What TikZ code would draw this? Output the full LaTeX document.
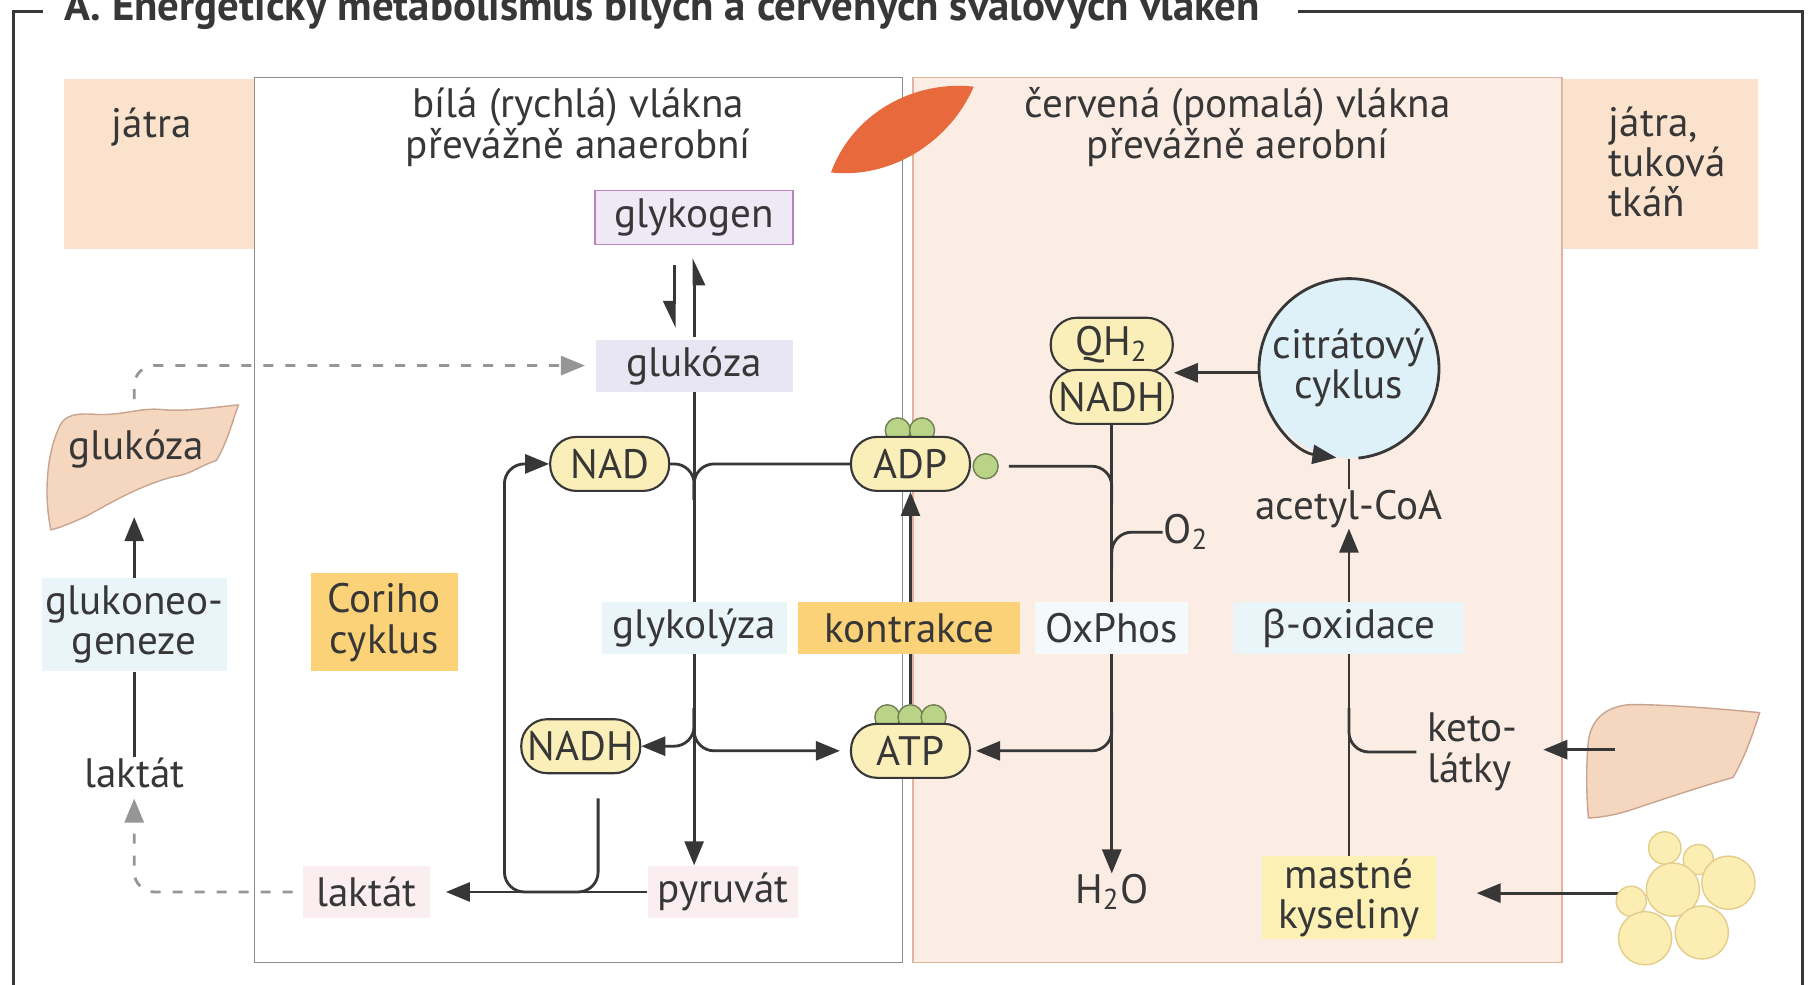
\documentclass[tikz,border=0pt]{standalone}
\usepackage{fontspec}
\setmainfont{PT Sans}
\newfontfamily\greekfont{Noto Sans}
\usetikzlibrary{arrows.meta}

\definecolor{ink}{RGB}{55,55,55}
\definecolor{band}{RGB}{250,226,205}
\definecolor{redfib}{RGB}{252,237,228}
\definecolor{redline}{RGB}{226,180,155}
\definecolor{boxline}{RGB}{140,140,140}
\definecolor{cofill}{RGB}{250,238,185}
\definecolor{pgreen}{RGB}{185,212,135}
\definecolor{sun}{RGB}{251,210,120}
\definecolor{cream}{RGB}{252,240,180}
\definecolor{sky}{RGB}{234,245,250}
\definecolor{citfill}{RGB}{222,240,248}
\definecolor{lilac}{RGB}{238,233,245}
\definecolor{lilacline}{RGB}{185,130,190}
\definecolor{lavender}{RGB}{232,230,242}
\definecolor{rose}{RGB}{250,238,240}
\definecolor{liver}{RGB}{245,214,190}
\definecolor{liverline}{RGB}{200,165,145}
\definecolor{fat}{RGB}{252,238,178}
\definecolor{fatline}{RGB}{228,205,140}
\definecolor{muscle}{RGB}{232,105,60}
\definecolor{dashc}{RGB}{150,150,150}

\pgfdeclarelayer{back}
\pgfdeclarelayer{wires}
\pgfsetlayers{back,wires,main}

\begin{document}
\begin{tikzpicture}[x=0.1157mm, y=0.1157mm,
    every node/.style={font=\fontsize{11.7}{11.5}\selectfont, text=ink, align=center, inner sep=0pt},
    cof/.style={draw=ink, line width=0.6pt, fill=cofill, rounded corners=2.6mm, minimum width=11.9mm, minimum height=5.4mm},
    pgrp/.style={circle, draw=pgreen!60!black, fill=pgreen, line width=0.4pt, minimum size=2.5mm},
    tag/.style={minimum height=5.2mm},
    flow/.style={draw=ink, line width=0.8pt, rounded corners=2mm},
    arr/.style={flow, -{Triangle[length=2.4mm, width=1.9mm]}},
    harp/.style={draw=ink, line width=0.8pt, -{Triangle[right, length=2.4mm, width=2.2mm]}},
    feed/.style={draw=dashc, line width=0.8pt, dash pattern=on 1mm off 1.2mm, rounded corners=2mm, -{Triangle[length=2.4mm, width=1.9mm]}}
]
\useasboundingbox (0,0) rectangle (1568,-851);

% frame and heading
\begin{pgfonlayer}{back}
\fill[white] (0,0) rectangle (1568,-851);
\draw[ink, line width=0.9pt] (37,-10) -- (12,-10) -- (12,-860);
\draw[ink, line width=0.9pt] (1122,-10) -- (1558,-10) -- (1558,-860);

% tissues
\fill[band] (55,-68) rectangle (220,-215);
\fill[band] (1350,-68) rectangle (1520,-215);
\filldraw[fill=redfib, draw=redline, line width=0.5pt] (789,-67) rectangle (1350,-832);
\filldraw[fill=white, draw=boxline, line width=0.5pt] (220,-67) rectangle (780,-832);

% muscle fibre
\begin{scope}[shift={(780,-112)}, rotate=31]
  \fill[muscle] (-72,0) .. controls (-30,34) and (30,32) .. (72,0) .. controls (30,-30) and (-30,-32) .. (-72,0) -- cycle;
\end{scope}

% liver, left
\filldraw[fill=liver, draw=liverline, line width=0.4pt] (50,-372)
  .. controls (54,-360) and (62,-357) .. (80,-358)
  .. controls (105,-360) and (120,-352) .. (140,-354)
  .. controls (160,-356) and (185,-352) .. (206,-350)
  .. controls (200,-368) and (195,-385) .. (187,-398)
  .. controls (170,-404) and (165,-410) .. (150,-412)
  .. controls (120,-420) and (95,-435) .. (75,-446)
  .. controls (62,-452) and (52,-456) .. (44,-458)
  .. controls (38,-430) and (40,-395) .. (50,-372) -- cycle;

% liver, right
\filldraw[fill=liver, draw=liverline, line width=0.4pt] (1373,-640)
  .. controls (1376,-620) and (1390,-610) .. (1410,-609)
  .. controls (1440,-609) and (1480,-612) .. (1521,-616)
  .. controls (1515,-635) and (1508,-655) .. (1498,-672)
  .. controls (1470,-680) and (1440,-690) .. (1410,-700)
  .. controls (1395,-705) and (1380,-707) .. (1373,-707)
  .. controls (1371,-685) and (1371,-660) .. (1373,-640) -- cycle;
\end{pgfonlayer}

\node[anchor=base west, font=\bfseries\fontsize{12.2}{13}\selectfont] (title) at (55,-18)
  {A. Energetický metabolismus bílých a červených svalových vláken};

% headings
\node (jatraL) at (131,-110) {játra};
\node[align=left, anchor=west] (jatraR) at (1390,-140) {játra,\\tuková\\tkáň};
\node (hdrW) at (500,-110) {bílá (rychlá) vlákna\\převážně anaerobní};
\node (hdrR) at (1070,-110) {červená (pomalá) vlákna\\převážně aerobní};

% white fibre
\node[draw=lilacline, fill=lilac, line width=0.5pt, minimum width=19.8mm, minimum height=5.4mm] (glykogen) at (600,-188) {glykogen};
\node[fill=lavender, minimum width=19.7mm, tag] (glukoza) at (600,-316) {glukóza};
\node[fill=sky, minimum width=18.5mm, tag] (glykolyza) at (600,-543) {glykolýza};
\node[fill=sun, minimum width=22.2mm, tag] (kontrakce) at (786,-543) {kontrakce};
\node[fill=rose, minimum width=15mm, tag] (pyruvat) at (625,-771) {pyruvát};
\node[fill=rose, minimum width=12.7mm, tag] (laktatW) at (317,-771) {laktát};
\node[fill=sun, minimum width=14.7mm, minimum height=9.8mm] (cori) at (332,-538) {Coriho\\cyklus};

% liver side
\node (glukozaL) at (118,-388) {glukóza};
\node[fill=sky, minimum width=18.5mm, minimum height=9.3mm] (glukoneo) at (116,-540) {glukoneo-\\geneze};
\node (laktatL) at (116,-668) {laktát};

% red fibre
\node[fill=sky!50, minimum width=15.3mm, tag] (oxphos) at (961,-543) {OxPhos};
\node[fill=sky, minimum width=23.1mm, tag] (betaox) at (1166,-543) {{\greekfont\fontsize{11}{11.5}\selectfont β}-oxidace};
\node[circle, fill=citfill, minimum size=18mm] (citrat) at (1166,-318) {citrátový\\cyklus};
\node (acetyl) at (1166,-440) {acetyl-CoA};
\node[anchor=west] (O2) at (1005,-460) {O\textsubscript{2}};
\node (H2O) at (961,-771) {H\textsubscript{2}O};
\node[fill=cream, minimum width=17.4mm, minimum height=8.3mm] (mastne) at (1166,-776) {mastné\\kyseliny};
\node[align=left, anchor=west] (keto) at (1233,-650) {keto-\\látky};

% phosphates and cofactors
\node[pgrp] (adp1) at (776,-372) {};
\node[pgrp] (adp2) at (797,-372) {};
\node[pgrp] (adp3) at (852,-403) {};
\node[pgrp] (atp1) at (767,-620) {};
\node[pgrp] (atp2) at (787,-620) {};
\node[pgrp] (atp3) at (807,-620) {};
\node[cof] (NAD) at (527,-401) {NAD};
\node[cof] (ADP) at (787,-401) {ADP};
\node[cof] (NADHl) at (502,-645) {NADH};
\node[cof] (ATP) at (787,-649) {ATP};
\node[cof, minimum width=12.2mm] (QH2) at (961,-298) {QH\textsubscript{2}};
\node[cof, minimum width=12.2mm] (NADHr) at (961,-343) {NADH};

% fat cells
\foreach \x/\y/\r in {1439/733/14, 1468/743/13, 1410/779/13, 1446/769/23, 1494/763/23, 1422/811/23, 1471/806/23}
  \filldraw[fill=fat, draw=fatline, line width=0.4pt] (\x,-\y) circle[radius=\r*0.1157mm];

\coordinate (glA) at (600,-432);
\coordinate (glB) at (600,-612);
\coordinate (nadhOut) at (517,-690);
\coordinate (coriL) at (436,-771);
\coordinate (liverTop) at (116,-345);
\coordinate (liverBot) at (116,-447);
\coordinate (oxA) at (961,-436);
\coordinate (oxO) at (961,-492);
\coordinate (oxB) at (961,-615);
\coordinate (bA) at (1166,-612);
\coordinate (liverR) at (1396,-648);
\coordinate (fatA) at (1400,-772);

\begin{pgfonlayer}{wires}
% glycogen <-> glucose
\draw[harp] ([xshift=-2mm, yshift=-2mm]glykogen.south) -- ([xshift=-2mm, yshift=1.1mm]glukoza.north);
\draw[harp] ([yshift=0.2mm]glukoza.north) -- ([yshift=-1.3mm]glykogen.south);

% glycolysis
\draw[arr] (glukoza.south) -- (glukoza.south |- pyruvat.north);
\draw[flow] (NAD.east) -| (glA);
\draw[flow] (ADP.west) -| (glA);
\draw[arr] (glB) |- (NADHl.east);
\draw[arr, shorten >=1mm] (glB) |- (ATP.west);
\draw[arr, shorten >=1.5mm] (pyruvat.west) -- (laktatW.east);
\draw[arr] (nadhOut) |- (coriL) |- (NAD.west);
\draw[arr] (atp2.north) -- (ADP.south);

% liver exchange
\draw[feed, shorten <=1mm, shorten >=1mm] (laktatW.west) -| (laktatL.south);
\draw[feed, shorten >=1mm] (liverTop) |- (glukoza.west);
\draw[arr] (glukoneo.north) -- (liverBot);
\draw[flow] (laktatL.north) -- (glukoneo.south);

% oxidative phosphorylation
\draw[arr] (NADHr.south) -- (NADHr.south |- H2O.north);
\draw[flow, shorten <=1mm] (adp3.east) -| (oxA);
\draw[flow] (oxO) |- (O2.west);
\draw[arr, shorten >=0.5mm] (oxB) |- (ATP.east);
\draw[arr] (citrat.west |- QH2.south) -- (QH2.south -| NADHr.east);
\draw[flow] (acetyl.north) -- (citrat.south);
\draw[arr] (mastne.north) -- (acetyl.south);
\draw[flow, shorten <=1mm] (keto.west) -| (bA);
\draw[arr, shorten >=2.5mm] (liverR) -- (liverR -| keto.east);
\draw[arr, shorten >=4mm] (fatA) -- (fatA -| mastne.east);
\end{pgfonlayer}

% citrate cycle ring
\draw[arr] (citrat.-84) arc[start angle=-84, end angle=262, radius=9mm];
\end{tikzpicture}
\end{document}
